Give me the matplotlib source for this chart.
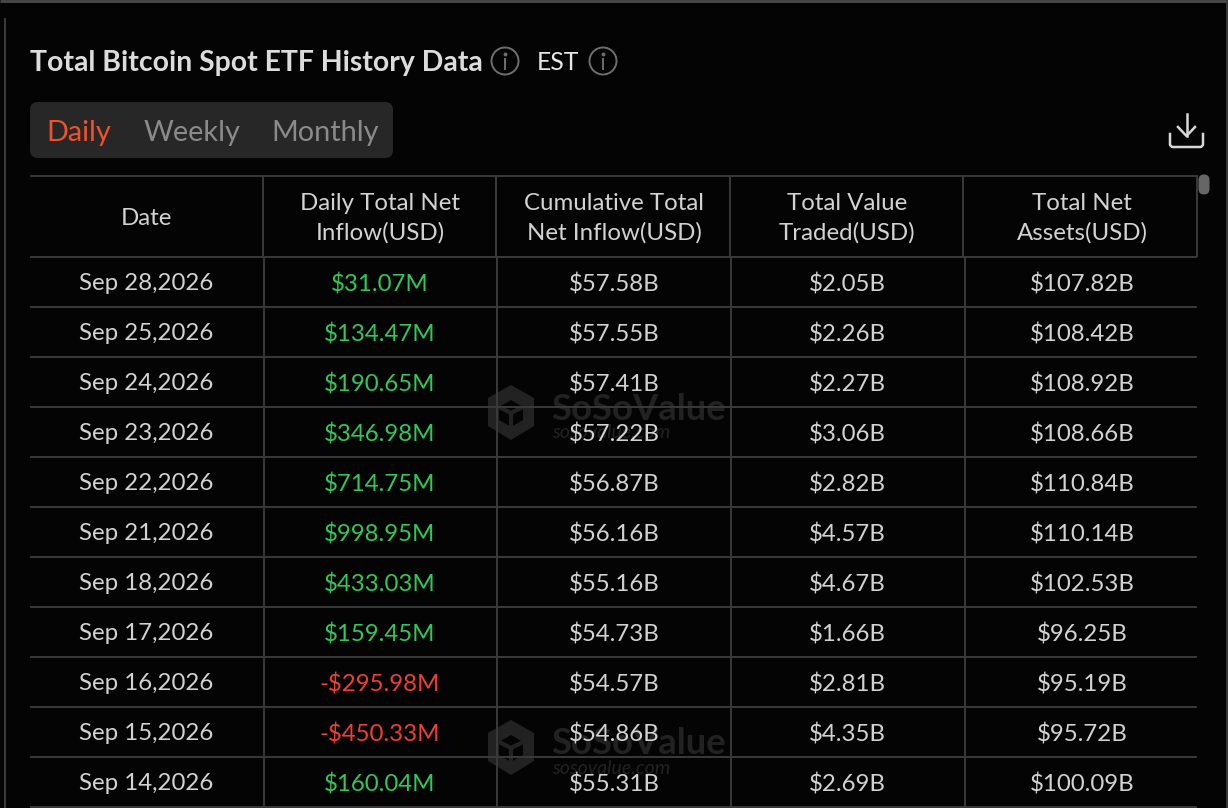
import matplotlib
matplotlib.use("Agg")
import matplotlib.pyplot as plt
from matplotlib.patches import FancyBboxPatch, Circle, Polygon

plt.rcParams['font.family'] = ['Lato', 'DejaVu Sans']

headers = ["Date", "Daily Total Net\nInflow(USD)", "Cumulative Total\nNet Inflow(USD)",
           "Total Value\nTraded(USD)", "Total Net\nAssets(USD)"]
dates = ["Sep 28,2026", "Sep 25,2026", "Sep 24,2026", "Sep 23,2026", "Sep 22,2026", "Sep 21,2026",
         "Sep 18,2026", "Sep 17,2026", "Sep 16,2026", "Sep 15,2026", "Sep 14,2026"]
daily_inflow = ["$31.07M", "$134.47M", "$190.65M", "$346.98M", "$714.75M", "$998.95M",
                "$433.03M", "$159.45M", "-$295.98M", "-$450.33M", "$160.04M"]
cumulative = ["$57.58B", "$57.55B", "$57.41B", "$57.22B", "$56.87B", "$56.16B",
              "$55.16B", "$54.73B", "$54.57B", "$54.86B", "$55.31B"]
value_traded = ["$2.05B", "$2.26B", "$2.27B", "$3.06B", "$2.82B", "$4.57B",
                "$4.67B", "$1.66B", "$2.81B", "$4.35B", "$2.69B"]
net_assets = ["$107.82B", "$108.42B", "$108.92B", "$108.66B", "$110.84B", "$110.14B",
              "$102.53B", "$96.25B", "$95.19B", "$95.72B", "$100.09B"]
tabs = ["Daily", "Weekly", "Monthly"]

BG = "#040404"
GRID = "#3a3a3a"
TEXT = "#d2d2d2"
GREEN = "#2fc85a"
RED = "#f23d33"
MARK = "#222222"

fig = plt.figure(figsize=(12.28, 8.08), dpi=100, facecolor=BG)
# axes in pixels, origin top left like the screenshot
ax = fig.add_axes([0, 0, 1, 1])
ax.set_xlim(0, 1228)
ax.set_ylim(808, 0)
ax.axis("off")


def hline(x0, x1, y, color=GRID, lw=1.4):
    ax.plot([x0, x1], [y, y], color=color, lw=lw, solid_capstyle="butt", zorder=3)


def vline(x, y0, y1, color=GRID, lw=1.4):
    ax.plot([x, x], [y0, y1], color=color, lw=lw, solid_capstyle="butt", zorder=3)


def info_icon(x, y):
    ax.add_patch(Circle((x, y), 13.5, fill=False, ec="#6e6e6e", lw=1.4, zorder=4))
    ax.plot([x, x], [y - 2, y + 8], color="#6e6e6e", lw=1.4, zorder=4)
    ax.plot([x], [y - 7], marker="o", ms=1.8, color="#6e6e6e", zorder=4)


def watermark(x, y):
    # logo is about 48 wide, text to the right of it
    hexagon = [(x + 24, y - 27), (x + 47, y - 14), (x + 47, y + 14), (x + 24, y + 28), (x + 1, y + 14), (x + 1, y - 14)]
    ax.add_patch(Polygon(hexagon, closed=True, fc=MARK, ec="none", zorder=1))
    inner = [(x + 24, y - 12), (x + 36, y - 5), (x + 36, y + 8), (x + 24, y + 15), (x + 12, y + 8), (x + 12, y - 5)]
    ax.add_patch(Polygon(inner, closed=True, fc=BG, ec="none", zorder=1))
    ax.plot([x + 24, x + 24], [y + 1, y + 15], color=MARK, lw=3, zorder=1)
    ax.plot([x + 12, x + 24, x + 36], [y - 5, y + 1, y - 5], color=MARK, lw=3, zorder=1)
    ax.text(x + 64, y - 3, "SoSoValue", color=MARK, fontsize=26.2, fontweight="bold", ha="left", va="center", zorder=1)
    ax.text(x + 65, y + 21, "sosovalue.com", color=MARK, fontsize=14, style="italic", ha="left", va="center", zorder=1)


# window edges
hline(0, 1228, 1, color="#4a4a4a", lw=2)
vline(4.5, 18, 808, color="#3c3c3c", lw=1.4)
vline(1226.5, 0, 808, color="#3c3c3c", lw=1.4)

# heading
ax.text(30, 63, "Total Bitcoin Spot ETF History Data", color="#dcdcdc", fontsize=20.4, fontweight="bold", ha="left", va="center")
info_icon(505, 61)
ax.text(537, 62, "EST", color="#e8e8e8", fontsize=17.7, ha="left", va="center")
info_icon(603, 61)

# tabs
ax.add_patch(FancyBboxPatch((30, 102), 363, 56, boxstyle="round,pad=0,rounding_size=8", fc="#272727", ec="none", zorder=2))
for label, x, col in zip(tabs, [46, 144, 271], ["#f0512a", "#8a8a8a", "#8a8a8a"]):
    ax.text(x, 133, label, color=col, fontsize=20.8, ha="left", va="center", zorder=4)

# download icon
ax.plot([1186.5, 1186.5], [114, 136], color="#d8d8d8", lw=1.8, zorder=4)
ax.plot([1178, 1186.5, 1195], [127, 136, 127], color="#d8d8d8", lw=1.8, zorder=4)
ax.plot([1170, 1170, 1172, 1201, 1203, 1203], [134, 145, 147, 147, 145, 134], color="#d8d8d8", lw=1.8, zorder=4)

# scrollbar thumb
ax.add_patch(FancyBboxPatch((1198.5, 174.5), 11, 20, boxstyle="round,pad=0,rounding_size=5.5", fc="#666666", ec="none", zorder=4))

watermark(487, 412)
watermark(487, 747)

# table frame
head_x = [263, 496, 730, 963, 1197]
body_x = [264, 497, 731, 965]
centers = [146, 380, 614, 847, 1082]
hline(30, 1197, 175.5)
hline(30, 1197, 257)
for x in head_x:
    vline(x, 175, 257)
for x in body_x:
    vline(x, 257, 808)

for cx, label in zip(centers, headers):
    ax.text(cx, 218.5, label, color=TEXT, fontsize=17.25, ha="center", va="center", linespacing=1.43, zorder=4)

rows = zip(dates, daily_inflow, cumulative, value_traded, net_assets)
for i, row in enumerate(rows):
    y = 282 + 50 * i
    hline(30, 1197, y + 25)
    for j, (cx, val) in enumerate(zip(centers, row)):
        col = TEXT
        if j == 1:
            col = RED if val.startswith("-") else GREEN
        ax.text(cx, y + 2, val, color=col, fontsize=17.3, ha="center", va="center", zorder=4)

fig.savefig("out.png", dpi=100, facecolor=BG)
